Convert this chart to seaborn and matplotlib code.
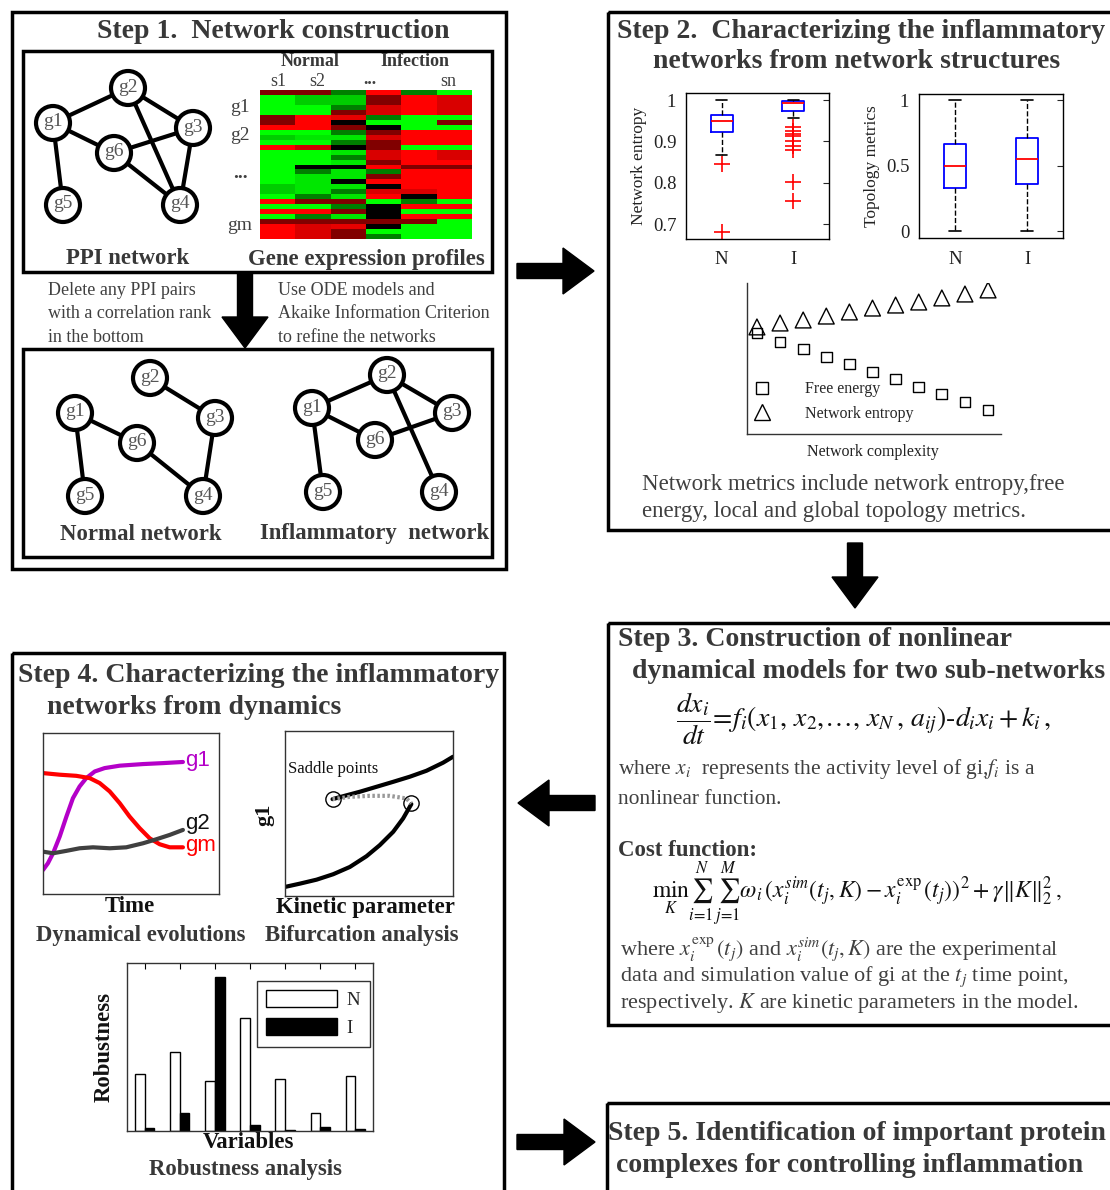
import numpy as np
import pandas as pd
import matplotlib.pyplot as plt
import seaborn as sns
from matplotlib.patches import Rectangle, Circle, FancyArrow, Patch
from matplotlib.lines import Line2D
from matplotlib.colors import LinearSegmentedColormap

# ---------------- data ----------------
# gene expression heatmap (-1 green .. 0 black .. 1 red), 30 genes x 6 samples
expr_s1 = [0.5, -1, -1, -1, -1, 0.5, 0.5, 1, -1, -0.8, -1, 1, -1, -1, -1, -1, -1, -1, -1, -0.8,
           -0.8, -1, 1, -1, 1, -1, 0.5, 1, 1, 1]
expr_s2 = [0.5, -0.8, -0.8, -1, -1, 1, 1, 1, -1, -0.9, -1, 0.8, -1, -1, -1, 0, -0.5, -0.9, -0.9, -0.9,
           -0.9, -0.5, 0.5, -1, 1, -0.5, 0.5, 0.85, 0.85, 0.85]
expr_s3 = [-0.5, -0.8, -0.8, -0.5, 0.5, 0.9, 0, 0.5, -0.5, -0.9, -0.5, 0, -0.9, -0.5, -0.9, 0, -0.9, -0.9, 0, -0.9,
           -0.5, -0.9, 0.5, -0.5, 0.5, -0.9, 0.5, 0.9, 0.5, 0.5]
expr_s4 = [1, 0.5, 0.5, 0.85, 0.85, -0.5, -1, 0, 0.5, 0.85, 0.5, 0.5, 0.85, 0.85, 0.5, 1, -0.5, 0.5, 1, 0,
           0.85, 1, -1, 0, 0, 0, 0.5, 0, -1, -0.5]
expr_s5 = [-0.5, 1, 1, 1, 1, -1, -1, -1, 1, 1, 1, -1, 1, 1, 1, 0.5, 1, 1, 1, 1,
           0.85, 0, -0.5, 1, -1, 1, 0.5, -1, -1, -1]
expr_s6 = [-1, 0.85, 0.85, 0.85, 0.85, -1, 0.5, -1, 1, 1, 1, -1, 0.85, 0.85, 1, 0.5, 1, 1, 1, 1,
           1, 1, -1, 1, -1, 1, -1, -1, -1, -1]

# PPI networks
net_edges = [('g1', 'g2'), ('g2', 'g3'), ('g1', 'g6'), ('g6', 'g3'), ('g2', 'g4'),
             ('g6', 'g4'), ('g3', 'g4'), ('g1', 'g5')]
normal_edges = [('g2', 'g3'), ('g1', 'g6'), ('g1', 'g5'), ('g6', 'g4'), ('g3', 'g4')]
infl_edges = [('g1', 'g2'), ('g2', 'g3'), ('g1', 'g6'), ('g6', 'g3'), ('g2', 'g4'), ('g1', 'g5')]

# boxplot summaries (N, I)
groups = ['N', 'I']
entropy_med = [0.950, 0.992]
entropy_q1 = [0.922, 0.973]
entropy_q3 = [0.965, 0.998]
entropy_lo = [0.866, 0.956]
entropy_hi = [1.0, 1.0]
entropy_out = [[0.846, 0.681], [0.936, 0.925, 0.918, 0.912, 0.901, 0.890, 0.879, 0.803, 0.755]]
topo_med = [0.499, 0.547]
topo_q1 = [0.326, 0.361]
topo_q3 = [0.664, 0.710]
topo_lo = [0.0, 0.0]
topo_hi = [1.0, 1.0]

# network complexity panel
complexity = [1, 2, 3, 4, 5, 6, 7, 8, 9, 10, 11]
free_energy = [0.669, 0.609, 0.563, 0.510, 0.464, 0.411, 0.364, 0.311, 0.265, 0.212, 0.159]
net_entropy = [0.709, 0.735, 0.755, 0.781, 0.808, 0.834, 0.854, 0.874, 0.901, 0.927, 0.954]

# dynamical evolutions
g1_t = [0, 0.028, 0.057, 0.095, 0.133, 0.170, 0.208, 0.246, 0.294, 0.350, 0.436, 0.568, 0.682, 0.795]
g1_y = [0.149, 0.191, 0.253, 0.357, 0.481, 0.595, 0.668, 0.720, 0.761, 0.782, 0.797, 0.807, 0.813, 0.820]
gm_t = [0, 0.095, 0.189, 0.265, 0.322, 0.379, 0.436, 0.492, 0.549, 0.606, 0.663, 0.720, 0.795]
gm_y = [0.751, 0.741, 0.734, 0.720, 0.689, 0.637, 0.564, 0.481, 0.409, 0.346, 0.309, 0.290, 0.290]
g2_t = [0, 0.057, 0.133, 0.208, 0.284, 0.379, 0.473, 0.568, 0.644, 0.720, 0.795]
g2_y = [0.263, 0.253, 0.268, 0.284, 0.290, 0.284, 0.290, 0.315, 0.340, 0.367, 0.398]

# bifurcation
upper_k = [0.283, 0.347, 0.446, 0.545, 0.644, 0.743, 0.842, 0.941, 1.0]
upper_g = [0.587, 0.605, 0.632, 0.662, 0.692, 0.723, 0.759, 0.808, 0.844]
lower_k = [0, 0.089, 0.188, 0.287, 0.386, 0.485, 0.564, 0.644, 0.703, 0.752]
lower_g = [0.055, 0.075, 0.099, 0.132, 0.176, 0.241, 0.308, 0.389, 0.470, 0.557]
unstable_k = [0.283, 0.386, 0.505, 0.624, 0.723, 0.752]
unstable_g = [0.587, 0.601, 0.607, 0.607, 0.591, 0.561]
saddle_k = [0.283, 0.752]
saddle_g = [0.587, 0.561]

# robustness
variables = ['v1', 'v2', 'v3', 'v4', 'v5', 'v6', 'v7']
robust_N = [0.337, 0.472, 0.297, 0.675, 0.307, 0.110, 0.329]
robust_I = [0.020, 0.110, 0.914, 0.034, 0.006, 0.024, 0.012]

# ---------------- style ----------------
sns.set_style('white')
plt.rcParams['font.family'] = ['Liberation Serif', 'DejaVu Serif']
plt.rcParams['mathtext.fontset'] = 'stix'

W, H = 1110, 1190
fig = plt.figure(figsize=(W / 100, H / 100), dpi=100)
ax0 = fig.add_axes([0, 0, 1, 1])
ax0.set_xlim(0, W)
ax0.set_ylim(H, 0)
ax0.axis('off')

TITLE = '#383838'
BODY = '#404040'
T_SIZE = 20
L_SIZE = 16.4


def inset(x0, y0, x1, y1):
    return fig.add_axes([x0 / W, 1 - y1 / H, (x1 - x0) / W, (y1 - y0) / H])


def box(x0, y0, x1, y1, lw=2.5):
    ax0.add_patch(Rectangle((x0, y0), x1 - x0, y1 - y0, fill=False, ec='black', lw=lw, zorder=1))


def arrow(x, y, dx, dy):
    ax0.add_patch(FancyArrow(x, y, dx, dy, width=15, head_width=46, head_length=31,
                             length_includes_head=True, color='black', zorder=5))


def txt(x, y, s, size=15, weight='normal', color=TITLE, ha='center', **kw):
    ax0.text(x, y, s, fontsize=size, fontweight=weight, color=color, ha=ha, va='center', **kw)


# ---------------- boxes & arrows ----------------
box(12, 12, 506, 569)
box(23, 51, 492, 272)
box(23, 349, 492, 557)
box(608, 12, 1125, 530)
box(608, 623, 1125, 1025)
box(12, 653, 504, 1200)
box(607, 1103, 1125, 1200)

arrow(517, 271, 77, 0)
arrow(855, 543, 0, 65)
arrow(595, 803, -77, 0)
arrow(517, 1142, 78, 0)
arrow(245, 272, 0, 76)

# ---------------- step 1 ----------------
txt(273, 31, 'Step 1.  Network construction', size=T_SIZE, weight='bold')


def draw_net(pos, edges):
    for a, b in edges:
        ax0.plot([pos[a][0], pos[b][0]], [pos[a][1], pos[b][1]], color='black', lw=3, zorder=2)
    for n, (x, y) in pos.items():
        ax0.add_patch(Circle((x, y), 17, fc='white', ec='black', lw=3, zorder=3))
        ax0.text(x, y - 1, n, ha='center', va='center', fontsize=14, color='#555555', zorder=4)


draw_net({'g1': (53, 123), 'g2': (128, 88), 'g3': (193, 128), 'g4': (180, 205),
          'g5': (63, 205), 'g6': (114, 153)}, net_edges)
draw_net({'g1': (75, 413), 'g2': (150, 378), 'g3': (215, 418), 'g4': (203, 496),
          'g5': (85, 496), 'g6': (137, 443)}, normal_edges)
draw_net({'g1': (312, 408), 'g2': (387, 375), 'g3': (452, 413), 'g4': (439, 492),
          'g5': (323, 492), 'g6': (375, 440)}, infl_edges)

expr = pd.DataFrame({'s1': expr_s1, 's2': expr_s2, 's3': expr_s3,
                     's4': expr_s4, 's5': expr_s5, 'sn': expr_s6})
cmap = LinearSegmentedColormap.from_list('gkr', [(0, 1, 0), (0, 0, 0), (1, 0, 0)])
ax_hm = inset(260, 90, 472, 239)
sns.heatmap(expr, cmap=cmap, vmin=-1, vmax=1, cbar=False, xticklabels=False,
            yticklabels=False, ax=ax_hm)

txt(310, 62, 'Normal', size=13, weight='bold')
txt(415, 62, 'Infection', size=13, weight='bold')
for x, s in [(278, 's1'), (317, 's2'), (448, 'sn')]:
    txt(x, 81, s, size=13, color=BODY)
txt(370, 80, '...', size=13, weight='bold', color=BODY)
for y, s in [(108, 'g1'), (135, 'g2'), (174, '...'), (226, 'gm')]:
    txt(240, y, s, size=14, color=BODY, weight='bold' if s == '...' else 'normal')

txt(128, 259, 'PPI network', size=L_SIZE, weight='bold')
txt(366, 259, 'Gene expression profiles', size=L_SIZE, weight='bold')
txt(48, 314, 'Delete any PPI pairs\nwith a correlation rank\nin the bottom', size=13,
    color=BODY, ha='left', linespacing=1.49)
txt(278, 314, 'Use ODE models and\nAkaike Information Criterion\nto refine the networks', size=13,
    color=BODY, ha='left', linespacing=1.49)
txt(141, 534, 'Normal network', size=L_SIZE, weight='bold')
txt(375, 534, 'Inflammatory  network', size=L_SIZE, weight='bold')

# ---------------- step 2 ----------------
txt(617, 32, 'Step 2.  Characterizing the inflammatory', size=T_SIZE, weight='bold', ha='left')
txt(857, 62, 'networks from network structures', size=T_SIZE, weight='bold')


def draw_box(ax, med, q1, q3, lo, hi, out):
    stats = []
    for i in range(2):
        stats.append(dict(med=med[i], q1=q1[i], q3=q3[i], whislo=lo[i], whishi=hi[i],
                          fliers=out[i], label=groups[i]))
    ax.bxp(stats, positions=[1, 2], widths=0.31, capwidths=0.155,
           boxprops=dict(color='#0000ff', lw=1.3),
           medianprops=dict(color='#ff0000', lw=1.3),
           whiskerprops=dict(color='black', lw=1, ls='--'),
           capprops=dict(color='black', lw=1.2),
           flierprops=dict(marker='+', markeredgecolor='#ff0000', markersize=12,
                           markeredgewidth=1.2, linestyle='none'))
    ax.set_xlim(0.5, 2.5)
    ax.tick_params(direction='in', top=True, right=True, length=4, labelsize=13.5,
                   labelcolor='#222222', pad=7)
    ax.tick_params(axis='x', top=False, bottom=False, pad=9)
    for s in ax.spines.values():
        s.set_linewidth(1)
        s.set_color('black')


ax_b1 = inset(686, 93, 829, 239)
draw_box(ax_b1, entropy_med, entropy_q1, entropy_q3, entropy_lo, entropy_hi, entropy_out)
ax_b1.set_ylim(0.664, 1.017)
ax_b1.set_yticks([0.7, 0.8, 0.9, 1.0])
ax_b1.set_yticklabels(['0.7', '0.8', '0.9', '1'])
ax_b1.set_ylabel('Network entropy', fontsize=12.5, color='#222222', labelpad=4)

ax_b2 = inset(919, 94, 1063, 238)
draw_box(ax_b2, topo_med, topo_q1, topo_q3, topo_lo, topo_hi, [[], []])
ax_b2.set_ylim(-0.053, 1.046)
ax_b2.set_yticks([0, 0.5, 1])
ax_b2.set_yticklabels(['0', '0.5', '1'])
ax_b2.set_ylabel('Topology metrics', fontsize=12.5, color='#222222', labelpad=4)

ax_sc = inset(747, 283, 1001, 434)
sns.scatterplot(x=complexity, y=free_energy, marker='s', s=60, facecolor='none',
                edgecolor='black', linewidth=1, ax=ax_sc)
sns.scatterplot(x=complexity, y=net_entropy, marker='^', s=130, facecolor='none',
                edgecolor='black', linewidth=1, ax=ax_sc)
ax_sc.set_xlim(0.57, 11.56)
ax_sc.set_ylim(0, 1)
ax_sc.set_xticks([])
ax_sc.set_yticks([])
sns.despine(ax=ax_sc)
for s in ['left', 'bottom']:
    ax_sc.spines[s].set_color('#333333')
    ax_sc.spines[s].set_linewidth(1)
handles = [Line2D([], [], marker='s', ls='none', mfc='none', mec='black', ms=8),
           Line2D([], [], marker='^', ls='none', mfc='none', mec='black', ms=11)]
ax_sc.legend(handles, ['Free energy', 'Network entropy'], loc='lower left',
             bbox_to_anchor=(-0.047, 0.005), frameon=False, fontsize=11.5, handletextpad=1.65,
             labelspacing=0.55, borderpad=0.2)
txt(873, 452, 'Network complexity', size=11.5, color='#222222')
txt(642, 498, 'Network metrics include network entropy,free\nenergy, local and global topology metrics.',
    size=16.5, color=BODY, ha='left', linespacing=1.43)

# ---------------- step 3 ----------------
txt(618, 640, 'Step 3. Construction of nonlinear', size=T_SIZE, weight='bold', ha='left')
txt(632, 671, 'dynamical models for two sub-networks', size=T_SIZE, weight='bold', ha='left')
txt(676, 719, r'$\dfrac{dx_i}{dt}\!=\!f_i(x_1,\, x_2,\!\ldots,\, x_N\,,\, a_{ij})\mathrm{\text{-}}d_i x_i+k_i\,,$',
    size=20, color='#111111', ha='left')
txt(618, 783, 'where $x_i$  represents the activity level of gi,$f_i$ is a\nnonlinear function.',
    size=15.5, color=BODY, ha='left', linespacing=1.6)
txt(618, 851, 'Cost function:', size=16.5, weight='bold', ha='left')
txt(652, 894, r'$\min_K\sum_{i=1}^{N}\,\sum_{j=1}^{M}\omega_i(x_i^{sim}(t_j,K)-x_i^{\exp}(t_j))^2+\gamma\Vert K\Vert_2^2\,,$',
    size=17, color='#111111', ha='left')
txt(620, 975, 'where $x_i^{\\exp}(t_j)$ and $x_i^{sim}(t_j,K)$ are the experimental\n'
    'data and simulation value of gi at the $t_j$ time point,\n'
    'respectively. $K$ are kinetic parameters in the model.',
    size=16, color=BODY, ha='left', linespacing=1.12)

# ---------------- step 4 ----------------
txt(18, 676, 'Step 4. Characterizing the inflammatory', size=T_SIZE, weight='bold', ha='left')
txt(47, 708, 'networks from dynamics', size=T_SIZE, weight='bold', ha='left')

ax_dy = inset(43, 733, 219, 894)
sns.lineplot(x=g1_t, y=g1_y, color='#b400c8', lw=3, sort=False, estimator=None, ax=ax_dy)
sns.lineplot(x=gm_t, y=gm_y, color='#ff0000', lw=3, sort=False, estimator=None, ax=ax_dy)
sns.lineplot(x=g2_t, y=g2_y, color='#404040', lw=3, sort=False, estimator=None, ax=ax_dy)
ax_dy.set_xlim(0, 1)
ax_dy.set_ylim(0, 1)
ax_dy.set_xticks([])
ax_dy.set_yticks([])
for s in ax_dy.spines.values():
    s.set_color('#333333')
    s.set_linewidth(1)
ax_dy.text(0.81, 0.83, 'g1', color='#b400c8', fontsize=16, family='Liberation Sans',
           transform=ax_dy.transAxes, va='center')
ax_dy.text(0.81, 0.44, 'g2', color='#111111', fontsize=16, family='Liberation Sans',
           transform=ax_dy.transAxes, va='center')
ax_dy.text(0.81, 0.30, 'gm', color='#ff0000', fontsize=16, family='Liberation Sans',
           transform=ax_dy.transAxes, va='center')

ax_bf = inset(285, 731, 453, 896)
sns.lineplot(x=upper_k, y=upper_g, color='black', lw=3, sort=False, estimator=None, ax=ax_bf)
sns.lineplot(x=lower_k, y=lower_g, color='black', lw=3, sort=False, estimator=None, ax=ax_bf)
ax_bf.plot(unstable_k, unstable_g, color='#999999', lw=3, dashes=(0.6, 0.6))
ax_bf.plot(saddle_k, saddle_g, ls='none', marker='o', ms=11, mfc='none', mec='black', mew=1)
ax_bf.set_xlim(0, 1)
ax_bf.set_ylim(0, 1)
ax_bf.set_xticks([])
ax_bf.set_yticks([])
for s in ax_bf.spines.values():
    s.set_color('#333333')
    s.set_linewidth(1)
ax_bf.text(0.02, 0.77, 'Saddle points', fontsize=12, color='#111111',
           transform=ax_bf.transAxes, va='center')
txt(264, 815, 'g1', size=16, weight='bold', color='#111111', rotation=90)

txt(130, 907, 'Time', size=L_SIZE, weight='bold', color='#111111')
txt(365, 907, 'Kinetic parameter', size=L_SIZE, weight='bold', color='#111111')
txt(141, 936, 'Dynamical evolutions', size=L_SIZE, weight='bold')
txt(362, 936, 'Bifurcation analysis', size=L_SIZE, weight='bold')

rob = pd.DataFrame({'variable': variables * 2,
                    'value': robust_N + robust_I,
                    'group': ['N'] * 7 + ['I'] * 7})
ax_rb = inset(127, 963, 373, 1131)
sns.barplot(data=rob, x='variable', y='value', hue='group', palette={'N': 'white', 'I': 'black'},
            edgecolor='black', linewidth=1, width=0.55, ax=ax_rb, legend=False)
ax_rb.set_xlim(-0.5, 6.5)
ax_rb.set_ylim(0, 1)
ax_rb.set_xlabel('')
ax_rb.set_ylabel('')
ax_rb.set_yticks([])
ax_rb.tick_params(axis='x', direction='in', top=True, bottom=False, length=4,
                  labelbottom=False, color='black')
for s in ax_rb.spines.values():
    s.set_color('#333333')
    s.set_linewidth(1)
leg_h = [Patch(fc='white', ec='black'), Patch(fc='black', ec='black')]
leg = ax_rb.legend(leg_h, ['N', 'I'], loc='upper right', bbox_to_anchor=(1.025, 0.95),
                   fontsize=13.5, handlelength=3.8, handleheight=1.0, frameon=True,
                   fancybox=False, edgecolor='black', borderpad=0.5, labelspacing=0.5,
                   handletextpad=0.5)
leg.get_frame().set_linewidth(1)
txt(104, 1047, 'Robustness', size=L_SIZE, weight='bold', color='#111111', rotation=90)
txt(248, 1143, 'Variables', size=L_SIZE, weight='bold', color='#111111')
txt(245, 1170, 'Robustness analysis', size=L_SIZE, weight='bold')

# ---------------- step 5 ----------------
txt(608, 1134, 'Step 5. Identification of important protein', size=T_SIZE, weight='bold', ha='left')
txt(616, 1165, 'complexes for controlling inflammation', size=T_SIZE, weight='bold', ha='left')

fig.savefig('out.png', dpi=100)
